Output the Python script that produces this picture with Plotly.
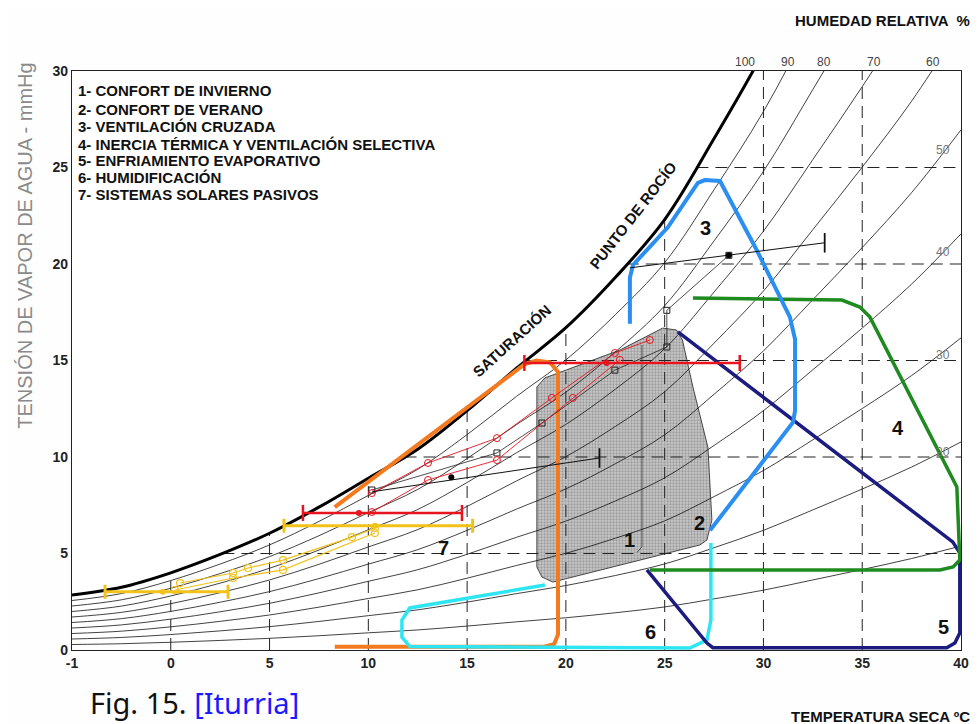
import numpy as np
import plotly.graph_objects as go

# ---------------- data ----------------
TEMP = [-5, -2.5, 0, 2.5, 5, 7.5, 10, 12.5, 15, 17.5, 20, 22.5, 25, 27.5, 30, 32.5, 35, 37.5, 40]
SAT = [2.85, 3.25, 4.0, 4.95, 6.05, 7.4, 8.9, 10.4, 12.4, 14.6, 16.7, 19.3, 22.3, 26.5, 31.0, 36.3, 41.7, 47.4, 53.9]
RH_LEVELS = [10, 20, 30, 40, 50, 60, 70, 80, 90]

X_TICKS = [-5, 0, 5, 10, 15, 20, 25, 30, 35, 40]
X_LABELS = ["-1", "0", "5", "10", "15", "20", "25", "30", "35", "40"]
Y_TICKS = [0, 5, 10, 15, 20, 25, 30]
GRID_T = [0, 5, 10, 15, 20, 25, 30, 35]
GRID_V = [5, 10, 15, 20, 25]

LEGEND_ITEMS = [
    "1- CONFORT DE INVIERNO",
    "2- CONFORT DE VERANO",
    "3- VENTILACIÓN CRUZADA",
    "4- INERCIA TÉRMICA Y VENTILACIÓN SELECTIVA",
    "5- ENFRIAMIENTO EVAPORATIVO",
    "6- HUMIDIFICACIÓN",
    "7- SISTEMAS SOLARES PASIVOS",
]
LEGEND_V = [29.0, 28.0, 27.1, 26.2, 25.35, 24.5, 23.6]

# comfort zones 1+2 (shaded)
ZONE12_T = [18.53, 18.94, 19.34, 22.73, 24.9, 25.6, 25.9, 26.43, 27.19, 27.39, 27.14, 26.78, 19.34, 18.79, 18.53, 18.53]
ZONE12_V = [13.63, 14.1, 14.25, 15.54, 16.68, 16.58, 16.06, 13.63, 10.5, 6.74, 5.7, 5.44, 3.52, 3.78, 4.3, 13.63]
DIV_T = [23.85, 23.85, 23.6]
DIV_V = [15.8, 5.35, 5.05]
# 3 ventilación cruzada
ZONE3_T = [23.24, 23.24, 23.4, 25.16, 26.68, 27.03, 27.8, 29.67, 31.34, 31.6, 31.6, 31.5, 27.3]
ZONE3_V = [16.9, 19.3, 19.95, 21.9, 24.2, 24.35, 24.3, 20.7, 17.25, 16.1, 12.4, 11.8, 6.2]
# 4 inercia térmica
ZONE4_T = [26.43, 33.97, 34.88, 35.39, 39.79, 39.94, 39.6, 38.93, 24.25]
ZONE4_V = [18.24, 18.13, 17.77, 17.25, 8.45, 4.66, 4.3, 4.15, 4.15]
# 5 enfriamiento evaporativo
ZONE5_T = [25.67, 39.58, 39.94, 39.94, 39.69, 39.28, 27.44, 27.14, 24.1]
ZONE5_V = [16.48, 5.6, 5.03, 0.88, 0.36, 0.12, 0.12, 0.36, 4.15]
# 6 humidificación
ZONE6_T = [18.94, 12.1, 11.7, 11.7, 12.1, 26.27, 27.14, 27.34, 27.34]
ZONE6_V = [3.37, 2.18, 1.55, 0.67, 0.18, 0.1, 0.52, 1.55, 5.54]
# 7 sistemas solares pasivos
ZONE7_T = [8.3, 17.9, 18.5, 19.2, 19.6, 19.6, 19.4, 18.9, 8.3]
ZONE7_V = [7.4, 14.8, 15.0, 14.9, 14.4, 0.8, 0.3, 0.17, 0.17]

# error bars (center, minus, plus)
RED_T = [22.07, 9.52]
RED_V = [14.87, 7.1]
RED_MINUS = [4.17, 2.83]
RED_PLUS = [6.73, 5.22]
YEL_T = [10.33, -0.4]
YEL_V = [6.44, 3.02]
YEL_MINUS = [4.6, 2.93]
YEL_PLUS = [4.95, 3.3]

BLK_UP_T = [23.24, 33.1]
BLK_UP_V = [19.8, 21.1]
BLK_UP_DOT = (28.25, 20.45)
BLK_LO_T = [10.2, 21.7]
BLK_LO_V = [8.2, 9.95]
BLK_LO_DOT = (14.2, 8.95)

# monthly data lines
REDA_T = [10.18, 13.02, 16.51, 19.29, 22.48, 24.25]
REDA_V = [8.13, 9.69, 10.98, 13.06, 15.39, 16.06]
REDB_T = [10.18, 13.02, 16.51, 20.35, 22.73]
REDB_V = [7.15, 8.81, 9.84, 13.06, 15.03]
BLKL_T = [10.18, 16.51, 18.79, 22.48, 25.11, 25.11, 28.25]
BLKL_V = [8.29, 10.21, 11.76, 14.5, 15.7, 17.6, 20.45]
YELA_T = [0.47, 3.15, 3.91, 5.68, 9.17, 10.33]
YELA_V = [3.47, 3.99, 4.25, 4.66, 5.85, 6.32]
YELB_T = [0.21, 3.15, 5.68, 10.33]
YELB_V = [3.11, 3.73, 4.15, 6.06]

ZONE_LABELS = ["1", "2", "3", "4", "5", "6", "7"]
ZONE_LABEL_T = [23.24, 26.78, 27.09, 36.8, 39.13, 24.3, 13.78]
ZONE_LABEL_V = [5.7, 6.58, 21.87, 11.5, 1.19, 0.93, 5.28]

RH_TOP_LABELS = ["100", "90", "80", "70", "60"]
RH_TOP_T = [29.06, 31.23, 33.06, 35.59, 38.57]
RH_SIDE_LABELS = ["50", "40", "30", "20"]
RH_SIDE_V = [25.9, 20.6, 15.3, 10.26]

# ---------------- colours ----------------
ORANGE = "#f47a1f"
BLUE = "#2a8ff0"
GREEN = "#1f8a1f"
NAVY = "#1c1c80"
CYAN = "#2ee6f2"
RED = "#e8141e"
YELLOW = "#f2c21a"
FONT = "Liberation Sans"

fig = go.Figure()

# shaded comfort zone
fig.add_trace(go.Scatter(
    x=ZONE12_T, y=ZONE12_V, mode="lines", fill="toself",
    fillcolor="#c0c0c0",
    fillpattern=dict(shape=".", bgcolor="#c8c8c8", fgcolor="#6e6e6e", size=3, solidity=0.45),
    line=dict(color="#222", width=0.8), hoverinfo="skip"))
fig.add_trace(go.Scatter(x=DIV_T, y=DIV_V, mode="lines",
                         line=dict(color="#333", width=0.8), hoverinfo="skip"))

# relative humidity curves
for rh in RH_LEVELS:
    fig.add_trace(go.Scatter(
        x=TEMP, y=[rh / 100 * s for s in SAT], mode="lines", line_shape="spline",
        line=dict(color="#111", width=0.8), hoverinfo="skip"))

# dashed grid clipped by saturation curve
sat_arr = np.array(SAT)
temp_arr = np.array(TEMP)
for t in GRID_T:
    top = min(30, float(np.interp(t, temp_arr, sat_arr)))
    fig.add_trace(go.Scatter(x=[t, t], y=[0, top], mode="lines",
                             line=dict(color="#222", width=1, dash="12px,7px"), hoverinfo="skip"))
for v in GRID_V:
    left = float(np.interp(v, sat_arr, temp_arr))
    fig.add_trace(go.Scatter(x=[left, 40], y=[v, v], mode="lines",
                             line=dict(color="#222", width=1, dash="12px,7px"), hoverinfo="skip"))

# saturation curve
fig.add_trace(go.Scatter(x=TEMP, y=SAT, mode="lines", line_shape="spline",
                         line=dict(color="#000", width=3), hoverinfo="skip"))

# zones
for zt, zv, col, w in [
    (ZONE7_T, ZONE7_V, ORANGE, 4),
    (ZONE6_T, ZONE6_V, CYAN, 3.5),
    (ZONE5_T, ZONE5_V, NAVY, 3.5),
    (ZONE4_T, ZONE4_V, GREEN, 3.5),
    (ZONE3_T, ZONE3_V, BLUE, 4),
]:
    fig.add_trace(go.Scatter(x=zt, y=zv, mode="lines",
                             line=dict(color=col, width=w), hoverinfo="skip"))

# monthly data lines
fig.add_trace(go.Scatter(x=YELA_T, y=YELA_V, mode="lines+markers",
                         line=dict(color=YELLOW, width=1.2),
                         marker=dict(symbol="circle-open", size=7, color=YELLOW, line=dict(width=1.2))))
fig.add_trace(go.Scatter(x=YELB_T, y=YELB_V, mode="lines+markers",
                         line=dict(color=YELLOW, width=1.2),
                         marker=dict(symbol="circle-open", size=7, color=YELLOW, line=dict(width=1.2))))
fig.add_trace(go.Scatter(x=BLKL_T, y=BLKL_V, mode="lines+markers",
                         line=dict(color="#222", width=0.8),
                         marker=dict(symbol="square-open", size=6, color="#222", line=dict(width=1))))
fig.add_trace(go.Scatter(x=REDA_T, y=REDA_V, mode="lines+markers",
                         line=dict(color=RED, width=0.9),
                         marker=dict(symbol="circle-open", size=7, color=RED, line=dict(width=1))))
fig.add_trace(go.Scatter(x=REDB_T, y=REDB_V, mode="lines+markers",
                         line=dict(color=RED, width=0.9),
                         marker=dict(symbol="circle-open", size=7, color=RED, line=dict(width=1))))

# black sloped ranges
for bt, bv, dot in [(BLK_UP_T, BLK_UP_V, BLK_UP_DOT), (BLK_LO_T, BLK_LO_V, BLK_LO_DOT)]:
    fig.add_trace(go.Scatter(x=bt, y=bv, mode="lines", line=dict(color="#111", width=1)))
    fig.add_trace(go.Scatter(x=[bt[-1]], y=[bv[-1]], mode="markers",
                             marker=dict(symbol="line-ns-open", size=14, color="#111", line=dict(width=1.8))))
    fig.add_trace(go.Scatter(x=[dot[0]], y=[dot[1]], mode="markers",
                             marker=dict(symbol="circle", size=6, color="#000")))

# red and yellow error bars
fig.add_trace(go.Scatter(
    x=YEL_T, y=YEL_V, mode="markers", marker=dict(size=6, color=YELLOW),
    error_x=dict(type="data", symmetric=False, array=YEL_PLUS, arrayminus=YEL_MINUS,
                 color=YELLOW, thickness=3, width=7)))
fig.add_trace(go.Scatter(
    x=RED_T, y=RED_V, mode="markers", marker=dict(size=6, color=RED),
    error_x=dict(type="data", symmetric=False, array=RED_PLUS, arrayminus=RED_MINUS,
                 color=RED, thickness=2.5, width=8)))

ann = []
for txt, v in zip(LEGEND_ITEMS, LEGEND_V):
    ann.append(dict(x=-4.8, y=v, xref="x", yref="y", text=txt, showarrow=False,
                    xanchor="left", yanchor="middle",
                    font=dict(family=FONT, size=15, color="#111", weight="bold")))
for txt, t, v in zip(ZONE_LABELS, ZONE_LABEL_T, ZONE_LABEL_V):
    ann.append(dict(x=t, y=v, xref="x", yref="y", text=txt, showarrow=False,
                    font=dict(family=FONT, size=20, color="#111", weight="bold")))
for txt, t in zip(RH_TOP_LABELS, RH_TOP_T):
    ann.append(dict(x=t, y=1.0155, xref="x", yref="paper", text=txt, showarrow=False,
                    yanchor="middle", font=dict(family=FONT, size=12, color="#444")))
for txt, v in zip(RH_SIDE_LABELS, RH_SIDE_V):
    ann.append(dict(x=39.1, y=v, xref="x", yref="y", text=txt, showarrow=False,
                    font=dict(family=FONT, size=12, color="#777")))
ann.append(dict(x=17.27, y=16.06, xref="x", yref="y", text="SATURACIÓN", showarrow=False,
                textangle=-42, font=dict(family=FONT, size=15, color="#111", weight="bold")))
ann.append(dict(x=23.4, y=22.5, xref="x", yref="y", text="PUNTO DE ROCÍO", showarrow=False,
                textangle=-52, font=dict(family=FONT, size=15, color="#111", weight="bold")))
ann.append(dict(x=1.012, y=1.106, xref="paper", yref="paper", text="HUMEDAD RELATIVA  %",
                showarrow=False, xanchor="right", yanchor="top",
                font=dict(family=FONT, size=15, color="#111", weight="bold")))
ann.append(dict(x=1.012, y=-0.114, xref="paper", yref="paper", text="TEMPERATURA SECA ºC",
                showarrow=False, xanchor="right", yanchor="middle",
                font=dict(family=FONT, size=15, color="#111", weight="bold")))
ann.append(dict(x=-0.053, y=0.698, xref="paper", yref="paper",
                text="TENSIÓN DE VAPOR DE AGUA - mmHg", showarrow=False, textangle=-90,
                xanchor="center", yanchor="middle",
                font=dict(family=FONT, size=20, color="#8a8a8a")))
ann.append(dict(x=0.018, y=-0.0915, xref="paper", yref="paper",
                text="Fig. 15. <span style='color:#1a1aff'>[Iturria]</span>", showarrow=False,
                xanchor="left", yanchor="middle",
                font=dict(family="Noto Sans", size=29, color="#111")))

# page body has an 8px margin: shift the figure so the plot area lands where the reference has it
fig.update_layout(
    width=972, height=716,
    margin=dict(l=64, r=19, t=63, b=74),
    paper_bgcolor="#fefefe", plot_bgcolor="#ffffff",
    showlegend=False, annotations=ann,
    xaxis=dict(range=[-5, 40], tickvals=X_TICKS, ticktext=X_LABELS, showgrid=False,
               zeroline=False, showline=True, mirror=True, linecolor="#222", linewidth=1.2,
               ticks="", tickfont=dict(family=FONT, size=14, color="#222", weight="bold")),
    yaxis=dict(range=[0, 30], tickvals=Y_TICKS, showgrid=False, zeroline=False,
               showline=True, mirror=True, linecolor="#222", linewidth=1.2, ticks="",
               tickfont=dict(family=FONT, size=14, color="#222", weight="bold")),
)

fig.write_html("out.html")
